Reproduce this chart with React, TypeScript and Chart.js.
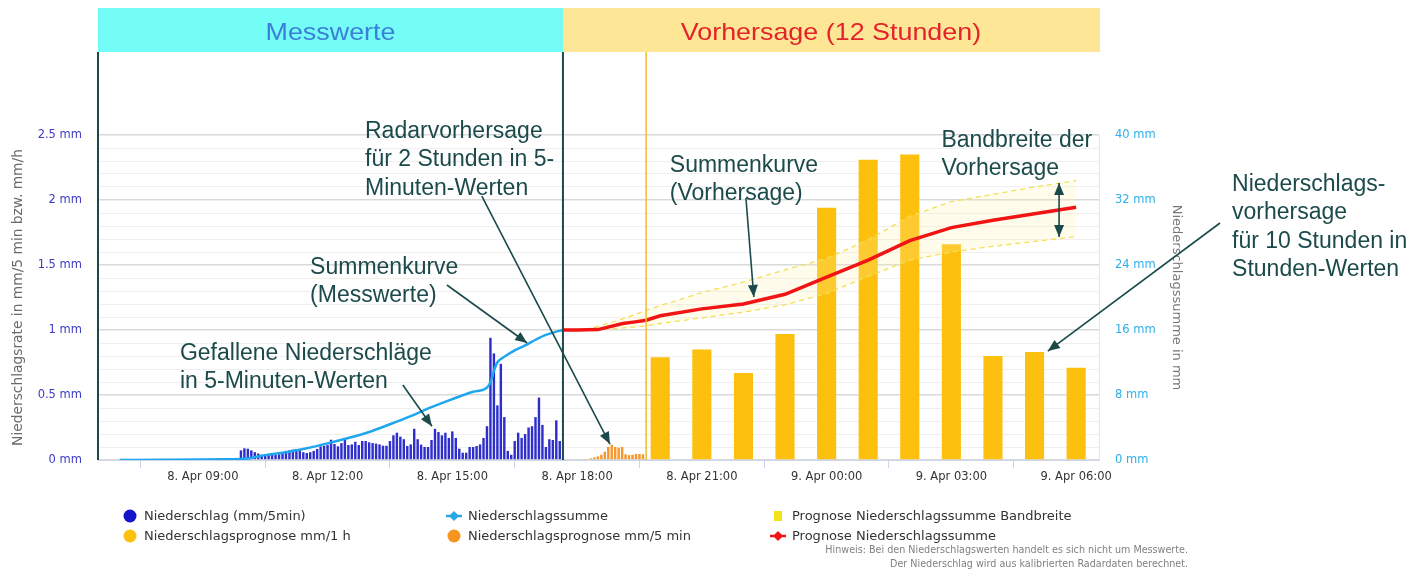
import React, { useEffect, useRef } from 'react';
import { Chart, registerables } from 'chart.js';

Chart.register(...registerables);
Chart.defaults.font.family = '"DejaVu Sans", sans-serif';

// ---------------- Data ----------------
// x axis in hours since 8 Apr 00:00
const xMinHour = 6.48;
const xMaxHour = 30.55;
const nowHour = 17.66;
const radarEndHour = 19.66;

const xTickHours = [9, 12, 15, 18, 21, 24, 27, 30];
const xTickLabels = ['8. Apr 09:00', '8. Apr 12:00', '8. Apr 15:00', '8. Apr 18:00', '8. Apr 21:00', '9. Apr 00:00', '9. Apr 03:00', '9. Apr 06:00'];

const rateTickValues = [0, 0.5, 1, 1.5, 2, 2.5];
const rateTickLabels = ['0 mm', '0.5 mm', '1 mm', '1.5 mm', '2 mm', '2.5 mm'];
const sumTickValues = [0, 8, 16, 24, 32, 40];
const sumTickLabels = ['0 mm', '8 mm', '16 mm', '24 mm', '32 mm', '40 mm'];

// measured precipitation, mm per 5 min, starting 09:55
const measuredStartHour = 9 + 55 / 60;
const measured5min = [
  0.074, 0.09, 0.087, 0.074, 0.06, 0.05, 0.04, 0.044, 0.038, 0.05,
  0.038, 0.044, 0.06, 0.07, 0.074, 0.08, 0.085, 0.074, 0.06, 0.054,
  0.06, 0.07, 0.085, 0.105, 0.11, 0.115, 0.156, 0.123, 0.105, 0.13,
  0.154, 0.115, 0.12, 0.14, 0.115, 0.146, 0.146, 0.136, 0.13, 0.126,
  0.12, 0.11, 0.11, 0.146, 0.19, 0.21, 0.18, 0.16, 0.108, 0.12,
  0.24, 0.16, 0.118, 0.10, 0.10, 0.154, 0.24, 0.215, 0.19, 0.21,
  0.17, 0.22, 0.17, 0.087, 0.056, 0.056, 0.10, 0.10, 0.108, 0.12,
  0.17, 0.26, 0.94, 0.82, 0.42, 0.74, 0.33, 0.07, 0.04, 0.146,
  0.21, 0.17, 0.2, 0.25, 0.26, 0.33, 0.48, 0.27, 0.10, 0.16,
  0.154, 0.305, 0.146,
];

// radar forecast, mm per 5 min, starting 18:10
const radarStartHour = 18 + 10 / 60;
const radar5min = [
  0.005, 0.008, 0.013, 0.02, 0.028, 0.04, 0.064, 0.10, 0.118,
  0.10, 0.095, 0.10, 0.044, 0.038, 0.04, 0.046, 0.046, 0.044,
];

// hourly forecast, mm per hour
const hourlyHours = [20, 21, 22, 23, 24, 25, 26, 27, 28, 29, 30];
const hourlyForecast = [0.79, 0.85, 0.67, 0.97, 1.94, 2.31, 2.35, 1.66, 0.80, 0.83, 0.71];

// measured accumulated sum (mm)
const measuredSumHours = [7.0, 8.0, 9.0, 9.5, 10.0, 10.5, 11.0, 11.5, 12.0, 12.5, 13.0, 13.5, 14.0, 14.5, 15.0, 15.5, 15.83, 15.92, 16.0, 16.08, 16.25, 16.5, 16.75, 17.0, 17.25, 17.5, 17.66];
const measuredSum = [0, 0.02, 0.05, 0.08, 0.15, 0.6, 0.95, 1.45, 2.05, 2.7, 3.45, 4.4, 5.4, 6.5, 7.5, 8.4, 8.9, 9.6, 11.0, 12.0, 12.7, 13.5, 14.1, 14.8, 15.4, 15.8, 16.0];

// forecast accumulated sum (mm)
const forecastSumHours = [17.66, 18.0, 18.5, 19.1, 19.4, 19.66, 20, 21, 22, 23, 24, 25, 26, 27, 28, 29, 30];
const forecastSum = [16.0, 16.0, 16.05, 16.8, 17.0, 17.2, 17.75, 18.6, 19.2, 20.4, 22.5, 24.6, 27.0, 28.6, 29.5, 30.3, 31.1];

// forecast range (mm)
const bandHours = [18.2, 19.0, 19.66, 20, 21, 22, 23, 24, 25, 26, 27, 28, 29, 30];
const bandUpper = [16.0, 17.2, 18.4, 19.0, 20.6, 21.9, 23.4, 24.8, 27.1, 30.0, 31.8, 32.7, 33.6, 34.4];
const bandLower = [16.0, 16.2, 16.5, 16.8, 17.5, 18.2, 19.1, 20.5, 22.6, 24.6, 25.6, 26.3, 26.9, 27.5];

// ---------------- Annotations (chart coordinates: hour, left-axis mm) ----------------
const annotationTexts = [
  { h: 12.9, v: 2.477, lines: ['Radarvorhersage', 'für 2 Stunden in 5-', 'Minuten-Werten'] },
  { h: 20.23, v: 2.215, lines: ['Summenkurve', '(Vorhersage)'] },
  { h: 26.76, v: 2.408, lines: ['Bandbreite der', 'Vorhersage'] },
  { h: 33.75, v: 2.069, lines: ['Niederschlags-', 'vorhersage', 'für 10 Stunden in', 'Stunden-Werten'] },
  { h: 11.58, v: 1.431, lines: ['Summenkurve', '(Messwerte)'] },
  { h: 8.45, v: 0.769, lines: ['Gefallene Niederschläge', 'in 5-Minuten-Werten'] },
];
const annotationArrows = [
  { from: [13.81, 0.577], to: [14.51, 0.26], both: false },
  { from: [14.87, 1.346], to: [16.8, 0.9], both: false },
  { from: [15.71, 2.03], to: [18.79, 0.123], both: false },
  { from: [22.06, 2.015], to: [22.25, 1.254], both: false },
  { from: [29.59, 2.13], to: [29.59, 1.715], both: true },
  { from: [33.46, 1.823], to: [29.32, 0.838], both: false },
];

const legendItems = [
  { label: 'Niederschlag (mm/5min)', kind: 'circle', color: '#1414c8' },
  { label: 'Niederschlagssumme', kind: 'line', color: '#29a8e6' },
  { label: 'Prognose Niederschlagssumme Bandbreite', kind: 'square', color: '#f2e21a' },
  { label: 'Niederschlagsprognose mm/1 h', kind: 'circle', color: '#fdc00f' },
  { label: 'Niederschlagsprognose mm/5 min', kind: 'circle', color: '#f7941d' },
  { label: 'Prognose Niederschlagssumme', kind: 'line', color: '#f01414' },
];
const noteLines = [
  'Hinweis: Bei den Niederschlagswerten handelt es sich nicht um Messwerte.',
  'Der Niederschlag wird aus kalibrierten Radardaten berechnet.',
];

const TEAL = '#1c4a4b';

function arrowHead(ctx: CanvasRenderingContext2D, x: number, y: number, ang: number) {
  const L = 12, W = 5;
  const c = Math.cos(ang), s = Math.sin(ang);
  ctx.beginPath();
  ctx.moveTo(x, y);
  ctx.lineTo(x - L * c + W * s, y - L * s - W * c);
  ctx.lineTo(x - L * c - W * s, y - L * s + W * c);
  ctx.closePath();
  ctx.fill();
}

const overlayPlugin = {
  id: 'overlay',
  afterDraw(chart: any) {
    const ctx: CanvasRenderingContext2D = chart.ctx;
    const { left, right, bottom } = chart.chartArea;
    const xs = chart.scales.x;
    const ys = chart.scales.y;
    const px = (h: number) => xs.getPixelForValue(h);
    const py = (v: number) => ys.getPixelForValue(v);
    const nowX = px(nowHour);
    const radX = px(radarEndHour);
    const headTop = 8, headBottom = 52;

    ctx.save();
    // header boxes
    ctx.fillStyle = '#74fcf7';
    ctx.fillRect(left, headTop, nowX - left, headBottom - headTop);
    ctx.fillStyle = '#fde796';
    ctx.fillRect(nowX, headTop, right + 1 - nowX, headBottom - headTop);
    ctx.font = '24px "Liberation Sans", Arial, sans-serif';
    ctx.textAlign = 'center';
    ctx.textBaseline = 'alphabetic';
    const drawStretched = (t: string, cx: number, color: string) => {
      ctx.save();
      ctx.translate(cx, 40);
      ctx.scale(1.12, 1);
      ctx.fillStyle = color;
      ctx.fillText(t, 0, 0);
      ctx.restore();
    };
    drawStretched('Messwerte', (left + nowX) / 2, '#3c7fd6');
    drawStretched('Vorhersage (12 Stunden)', (nowX + right) / 2, '#e5222a');

    // vertical lines
    ctx.strokeStyle = TEAL;
    ctx.lineWidth = 2;
    ctx.beginPath();
    ctx.moveTo(left, headBottom); ctx.lineTo(left, bottom);
    ctx.moveTo(nowX, headBottom); ctx.lineTo(nowX, bottom);
    ctx.stroke();
    ctx.strokeStyle = '#f0bd2e';
    ctx.lineWidth = 1.5;
    ctx.beginPath();
    ctx.moveTo(radX, headBottom); ctx.lineTo(radX, bottom);
    ctx.stroke();

    // annotation texts
    ctx.fillStyle = TEAL;
    ctx.textAlign = 'left';
    ctx.font = '23px "Liberation Sans", Arial, sans-serif';
    annotationTexts.forEach((a) => {
      const x = px(a.h), y = py(a.v);
      a.lines.forEach((l, i) => ctx.fillText(l, x, y + i * 28.3));
    });
    // arrows
    ctx.strokeStyle = TEAL;
    ctx.lineWidth = 1.6;
    annotationArrows.forEach((a) => {
      const x1 = px(a.from[0]), y1 = py(a.from[1]);
      const x2 = px(a.to[0]), y2 = py(a.to[1]);
      const ang = Math.atan2(y2 - y1, x2 - x1);
      ctx.beginPath();
      ctx.moveTo(x1, y1); ctx.lineTo(x2, y2);
      ctx.stroke();
      arrowHead(ctx, x2, y2, ang);
      if (a.both) arrowHead(ctx, x1, y1, ang + Math.PI);
    });

    // legend
    const colX = [130, 454, 778];
    const rowY = [516, 536];
    ctx.font = '13px "DejaVu Sans", sans-serif';
    ctx.textBaseline = 'middle';
    legendItems.forEach((it, i) => {
      const cx = colX[i % 3], cy = rowY[Math.floor(i / 3)];
      ctx.fillStyle = it.color;
      ctx.strokeStyle = it.color;
      if (it.kind === 'circle') {
        ctx.beginPath(); ctx.arc(cx, cy, 6.5, 0, Math.PI * 2); ctx.fill();
      } else if (it.kind === 'square') {
        ctx.fillRect(cx - 4, cy - 5, 8, 10);
      } else {
        ctx.lineWidth = 2.5;
        ctx.beginPath(); ctx.moveTo(cx - 8, cy); ctx.lineTo(cx + 8, cy); ctx.stroke();
        ctx.beginPath();
        ctx.moveTo(cx, cy - 5); ctx.lineTo(cx + 5, cy); ctx.lineTo(cx, cy + 5); ctx.lineTo(cx - 5, cy);
        ctx.closePath(); ctx.fill();
      }
      ctx.fillStyle = '#333333';
      ctx.fillText(it.label, cx + 14, cy + 1);
    });
    // note
    ctx.font = '9.6px "DejaVu Sans", sans-serif';
    ctx.fillStyle = '#808080';
    ctx.textAlign = 'right';
    noteLines.forEach((l, i) => ctx.fillText(l, 1188, 550 + i * 14));
    ctx.restore();
  },
};

export default function App() {
  const ref = useRef<HTMLCanvasElement>(null);
  useEffect(() => {
    const pts = (hs: number[], vs: number[]) => hs.map((h, i) => ({ x: h, y: vs[i] }));
    const measuredData = measured5min.map((v, i) => ({ x: measuredStartHour + (i * 5) / 60, y: v }));
    const radarData = radar5min.map((v, i) => ({ x: radarStartHour + (i * 5) / 60, y: v }));
    const hourlyData = pts(hourlyHours, hourlyForecast);

    const chart = new Chart(ref.current as HTMLCanvasElement, {
      type: 'bar',
      data: {
        datasets: [
          {
            type: 'line', label: 'Prognose Niederschlagssumme', data: pts(forecastSumHours, forecastSum),
            xAxisID: 'x', yAxisID: 'y2', borderColor: '#f01414', borderWidth: 3.5, pointRadius: 0, tension: 0, fill: false,
          },
          {
            type: 'line', label: 'Niederschlagssumme', data: pts(measuredSumHours, measuredSum),
            xAxisID: 'x', yAxisID: 'y2', borderColor: '#1ea6ee', borderWidth: 2.5, pointRadius: 0,
            cubicInterpolationMode: 'monotone', fill: false,
          },
          {
            type: 'line', label: 'Bandbreite oben', data: pts(bandHours, bandUpper),
            xAxisID: 'x', yAxisID: 'y2', borderColor: '#f3df55', borderWidth: 1.3, borderDash: [5, 4], pointRadius: 0, fill: false,
          },
          {
            type: 'line', label: 'Prognose Niederschlagssumme Bandbreite', data: pts(bandHours, bandLower),
            xAxisID: 'x', yAxisID: 'y2', borderColor: '#f3df55', borderWidth: 1.3, borderDash: [5, 4], pointRadius: 0,
            fill: '-1', backgroundColor: 'rgba(255, 240, 170, 0.22)',
          },
          {
            type: 'bar', label: 'Niederschlag (mm/5min)', data: measuredData, xAxisID: 'x', yAxisID: 'y',
            backgroundColor: '#2e2ecc', barPercentage: 0.7, categoryPercentage: 1, grouped: false,
          },
          {
            type: 'bar', label: 'Niederschlagsprognose mm/5 min', data: radarData, xAxisID: 'x', yAxisID: 'y',
            backgroundColor: '#f7962a', barPercentage: 0.7, categoryPercentage: 1, grouped: false,
          },
          {
            type: 'bar', label: 'Niederschlagsprognose mm/1 h', data: hourlyData, xAxisID: 'xh', yAxisID: 'y',
            backgroundColor: '#fdc00f', barPercentage: 0.46, categoryPercentage: 1, grouped: false,
          },
        ],
      } as any,
      options: {
        responsive: false,
        animation: false,
        devicePixelRatio: 1,
        layout: { padding: { left: 0, right: 226, top: 135, bottom: 0 } },
        plugins: { legend: { display: false }, tooltip: { enabled: false } },
        scales: {
          x: {
            type: 'linear', min: xMinHour, max: xMaxHour, offset: false, position: 'bottom',
            afterBuildTicks: (a: any) => { a.ticks = xTickHours.map((v) => ({ value: v })); },
            afterFit: (s: any) => { s.height = 111; },
            grid: { drawOnChartArea: false, tickLength: 8, color: '#ccd6eb' },
            border: { color: '#ccd6eb' },
            ticks: {
              autoSkip: false, maxRotation: 0, padding: 2, color: '#333333', font: { size: 11.5 },
              callback: (v: any) => { const i = xTickHours.indexOf(Number(v)); return i >= 0 ? xTickLabels[i] : ''; },
            },
          },
          xh: { type: 'linear', min: xMinHour, max: xMaxHour, offset: false, display: false },
          y: {
            position: 'left', min: 0, max: 2.5,
            afterBuildTicks: (a: any) => { a.ticks = Array.from({ length: 26 }, (_, k) => ({ value: k / 10 })); },
            afterFit: (s: any) => { s.width = 98; },
            grid: {
              drawTicks: false,
              color: (c: any) => (Math.abs(c.tick.value * 2 - Math.round(c.tick.value * 2)) < 1e-6 ? '#d9d9d9' : '#efefef'),
              lineWidth: (c: any) => (Math.abs(c.tick.value * 2 - Math.round(c.tick.value * 2)) < 1e-6 ? 1.6 : 1),
            },
            border: { display: false },
            ticks: {
              autoSkip: false, padding: 16, color: '#3b3bc4', font: { size: 11.5 },
              callback: (v: any) => { const i = rateTickValues.findIndex((t) => Math.abs(t - Number(v)) < 1e-6); return i >= 0 ? rateTickLabels[i] : ''; },
            },
            title: {
              display: true, text: 'Niederschlagsrate in mm/5 min bzw. mm/h', color: '#6a6a6a',
              font: { size: 13.8 }, padding: { top: 10, bottom: 0 },
            },
          },
          y2: {
            position: 'right', min: 0, max: 40,
            afterBuildTicks: (a: any) => { a.ticks = sumTickValues.map((v) => ({ value: v })); },
            afterFit: (s: any) => { s.width = 90; },
            grid: { drawOnChartArea: false, drawTicks: false },
            border: { color: '#e6e6e6' },
            ticks: {
              autoSkip: false, padding: 16, color: '#2eaee8', font: { size: 11.5 },
              callback: (v: any) => { const i = sumTickValues.indexOf(Number(v)); return i >= 0 ? sumTickLabels[i] : ''; },
            },
            title: {
              display: true, text: 'Niederschlagssumme in mm', color: '#777777',
              font: { size: 13 }, padding: { top: 5, bottom: 0 },
            },
          },
        },
      } as any,
      plugins: [overlayPlugin],
    });
    return () => chart.destroy();
  }, []);

  return (
    <div style={{ position: 'absolute', left: 0, top: 0, width: 1415, height: 571, background: '#ffffff' }}>
      <canvas ref={ref} width={1415} height={571} style={{ display: 'block', width: 1415, height: 571 }} />
    </div>
  );
}
